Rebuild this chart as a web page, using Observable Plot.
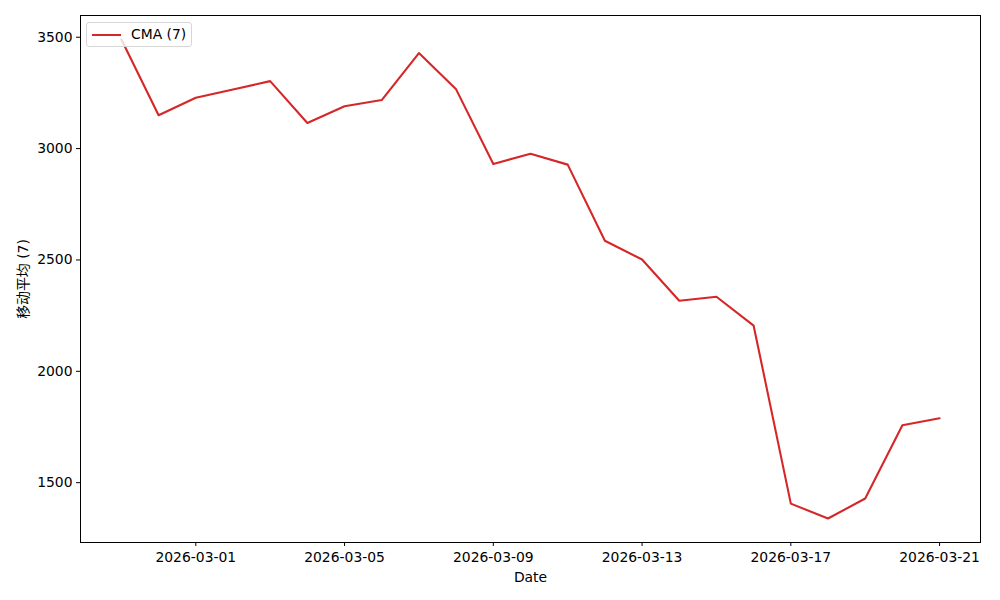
<!DOCTYPE html>
<html>
<head>
<meta charset="utf-8">
<script src="https://cdn.jsdelivr.net/npm/d3@7"></script>
<script src="https://cdn.jsdelivr.net/npm/@observablehq/plot@0.6"></script>
<style>
  body { margin: 0; background: #fff; }
  #wrap { position: relative; width: 1000px; height: 600px; font-family: "DejaVu Sans", "Noto Sans CJK SC", sans-serif; }
  #legend { position: absolute; left: 86px; top: 22px; width: 104px; height: 23px; border: 1px solid #d6d6d6; border-radius: 3px; background: rgba(255,255,255,0.8); font-size: 13.9px; }
  #legend .sw { position: absolute; left: 5px; top: 11px; width: 29px; height: 2px; background: #d62728; }
  #legend .lb { position: absolute; left: 44px; top: 3px; color: #000; white-space: nowrap; }
</style>
</head>
<body>
<div id="wrap"></div>
<script>
const dates = ["2026-02-27","2026-02-28","2026-03-01","2026-03-02","2026-03-03","2026-03-04","2026-03-05","2026-03-06","2026-03-07","2026-03-08","2026-03-09","2026-03-10","2026-03-11","2026-03-12","2026-03-13","2026-03-14","2026-03-15","2026-03-16","2026-03-17","2026-03-18","2026-03-19","2026-03-20","2026-03-21"];
const cma = [3490,3150,3228,3265,3303,3115,3190,3218,3429,3266,2931,2977,2928,2586,2502,2317,2335,2205,1406,1339,1429,1758,1789];
const xTickLabels = ["2026-03-01","2026-03-05","2026-03-09","2026-03-13","2026-03-17","2026-03-21"];
const yTicks = [1500,2000,2500,3000,3500];
const seriesName = "CMA (7)";
const yLabel = "移动平均 (7)";
const xLabel = "Date";

const parse = d3.utcParse("%Y-%m-%d");
const data = dates.map((d, i) => ({date: parse(d), value: cma[i]}));
const t0 = parse("2026-02-27"), t1 = parse("2026-03-21");
const pad = (t1 - t0) * 0.05;
const vmin = d3.min(cma), vmax = d3.max(cma), vpad = (vmax - vmin) * 0.05;

const chart = Plot.plot({
  width: 1000,
  height: 600,
  marginLeft: 80,
  marginRight: 20,
  marginTop: 15,
  marginBottom: 58,
  style: {fontFamily: "DejaVu Sans, Noto Sans CJK SC, sans-serif", fontSize: "13.9px", color: "#000", background: "#fff"},
  x: {type: "utc", domain: [new Date(+t0 - pad), new Date(+t1 + pad)]},
  y: {domain: [vmin - vpad, vmax + vpad]},
  marks: [
    Plot.line(data, {x: "date", y: "value", stroke: "#d62728", strokeWidth: 2.1}),
    Plot.frame({stroke: "#000", strokeWidth: 1}),
    Plot.axisX({ticks: xTickLabels.map(parse), tickFormat: d3.utcFormat("%Y-%m-%d"), tickSize: 4, tickPadding: 6, label: xLabel, labelArrow: "none", labelAnchor: "center", labelOffset: 39, stroke: "#000", color: "#000"}),
    Plot.axisY({ticks: yTicks, tickFormat: d => String(d), tickSize: 4, tickPadding: 4, label: yLabel, labelArrow: "none", labelAnchor: "center", labelOffset: 62, stroke: "#000", color: "#000"})
  ]
});
const wrap = document.getElementById("wrap");
wrap.appendChild(chart);
const lg = document.createElement("div");
lg.id = "legend";
lg.innerHTML = '<div class="sw"></div><div class="lb"></div>';
lg.querySelector(".lb").textContent = seriesName;
wrap.appendChild(lg);
</script>
</body>
</html>
